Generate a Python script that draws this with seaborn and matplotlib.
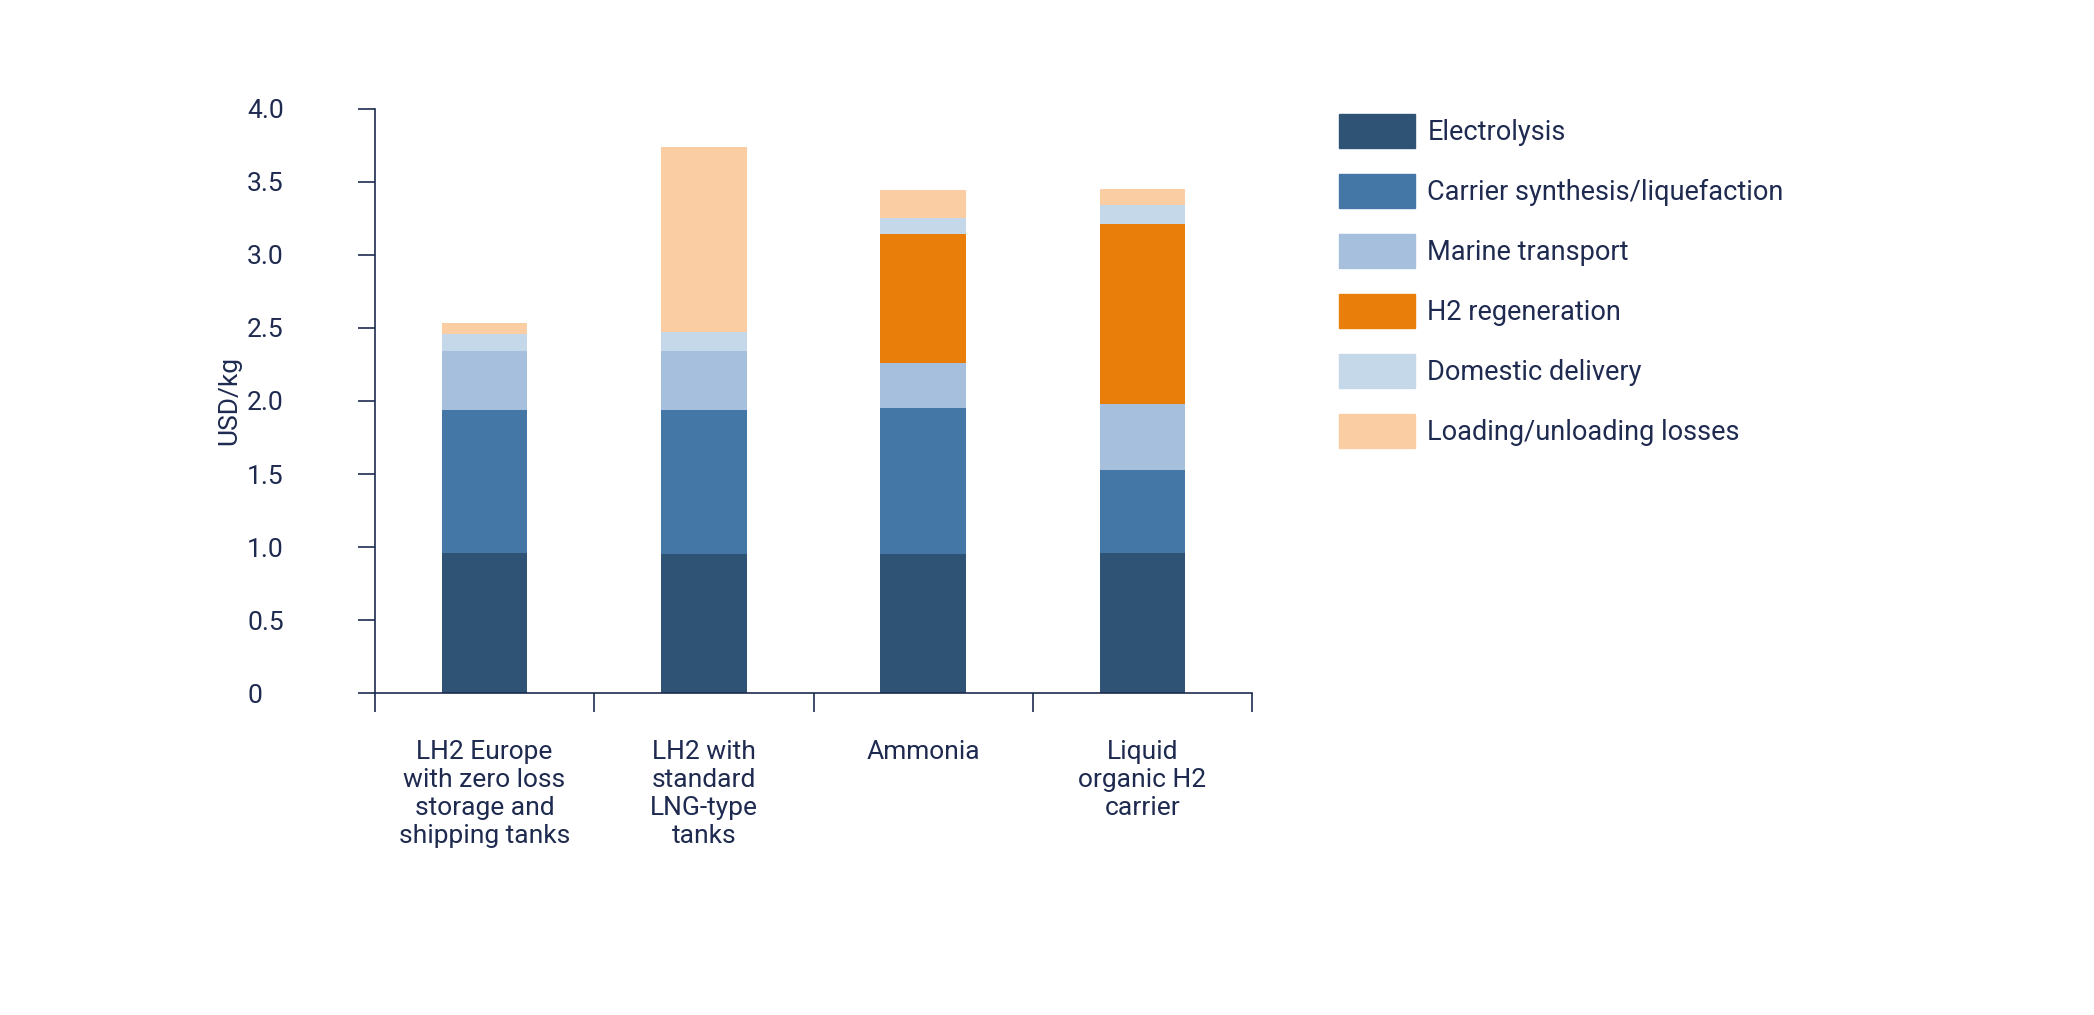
import numpy as np
import pandas as pd
import matplotlib
matplotlib.use('Agg')
import matplotlib.pyplot as plt
import matplotlib.patches as mpatches
import seaborn as sns

sns.set_style('white')
plt.rcParams['font.family'] = ['Roboto', 'DejaVu Sans']
plt.rcParams['xtick.bottom'] = True
plt.rcParams['ytick.left'] = True
TXT = '#1e2a4f'

categories = ['LH2 Europe\nwith zero loss\nstorage and\nshipping tanks',
              'LH2 with\nstandard\nLNG-type\ntanks',
              'Ammonia',
              'Liquid\norganic H2\ncarrier']
components = ['Electrolysis', 'Carrier synthesis/liquefaction', 'Marine transport',
              'H2 regeneration', 'Domestic delivery', 'Loading/unloading losses']
colors = ['#2f5374', '#4477a5', '#a6bfdd', '#e97f0a', '#c5d8ea', '#fbcda3']

electrolysis = [0.96, 0.95, 0.95, 0.96]
carrier      = [0.98, 0.99, 1.00, 0.57]
marine       = [0.40, 0.40, 0.31, 0.45]
regeneration = [0.00, 0.00, 0.88, 1.23]
domestic     = [0.12, 0.13, 0.11, 0.13]
losses       = [0.07, 1.27, 0.19, 0.11]

vals = np.array([electrolysis, carrier, marine, regeneration, domestic, losses])
cum = vals.cumsum(axis=0)

fig = plt.figure(figsize=(20.94, 10.15), dpi=100)
ax = fig.add_axes([0.179, 0.317, 0.419, 0.576])

for i in range(len(components) - 1, -1, -1):
    df = pd.DataFrame({'cat': categories, 'val': cum[i]})
    sns.barplot(data=df, x='cat', y='val', color=colors[i], saturation=1,
                width=0.39, ax=ax, linewidth=0)

ax.set_xlim(-0.5, 3.5)
ax.set_ylim(0, 4.0)
ax.set_yticks(np.arange(0, 4.01, 0.5))
ax.set_yticklabels(['0'] + [f'{v:.1f}' for v in np.arange(0.5, 4.01, 0.5)],
                   ha='left', fontsize=19, color=TXT)
ax.tick_params(axis='y', left=True, pad=80, length=12, color=TXT, width=1.2, direction='out')
ax.set_xticks([0, 1, 2, 3])
ax.set_xticklabels(categories, fontsize=19, color=TXT, va='top', linespacing=1.2)
ax.tick_params(axis='x', which='major', length=0, pad=34)
ax.set_xticks([-0.5, 0.5, 1.5, 2.5, 3.5], minor=True)
ax.tick_params(axis='x', which='minor', bottom=True, length=14, color=TXT, width=1.2, direction='out')
ax.set_xlabel('')
ax.set_ylabel('USD/kg', fontsize=19, color=TXT, labelpad=4)
for s in ['top', 'right']:
    ax.spines[s].set_visible(False)
for s in ['left', 'bottom']:
    ax.spines[s].set_color(TXT)
    ax.spines[s].set_linewidth(1.2)
ax.grid(False)

handles = [mpatches.Patch(color=c, label=l) for c, l in zip(colors, components)]
fig.legend(handles=handles, loc='upper left', bbox_to_anchor=(0.628, 0.912),
           frameon=False, fontsize=19.5, labelcolor=TXT, handlelength=2.8,
           handleheight=1.6, labelspacing=0.93, handletextpad=0.45)

fig.savefig('out.png', dpi=100, facecolor='white')
